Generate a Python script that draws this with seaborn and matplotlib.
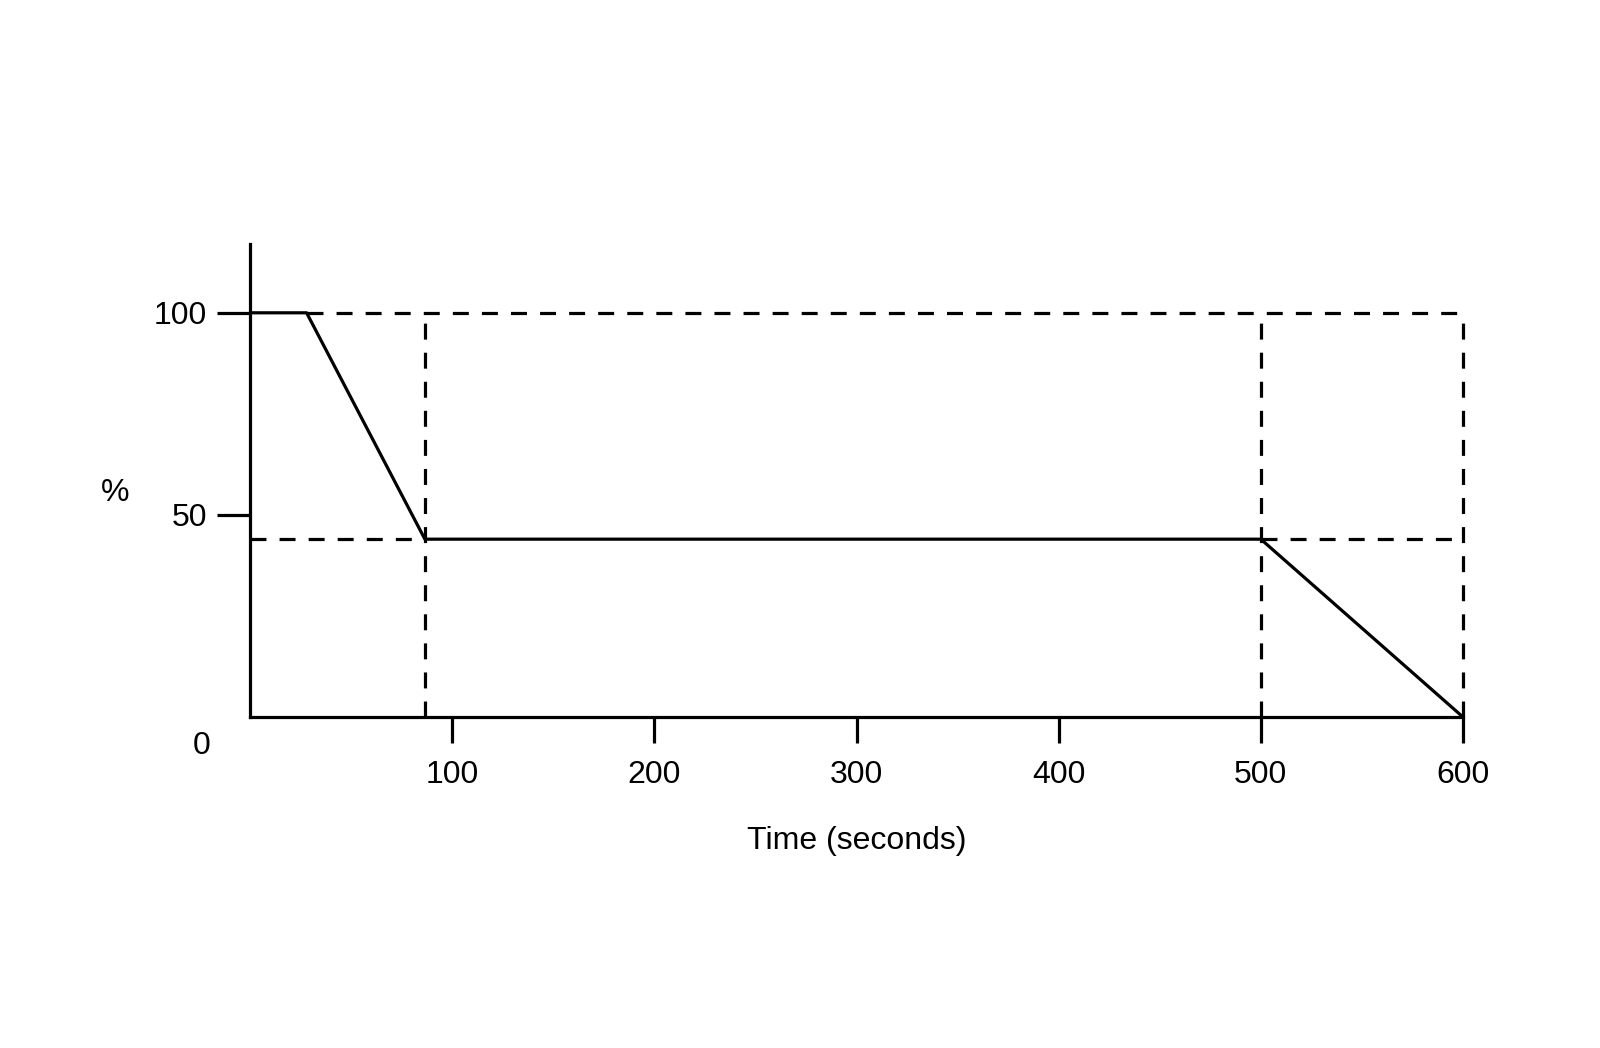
import matplotlib
matplotlib.use('Agg')
import matplotlib.pyplot as plt
import seaborn as sns
import pandas as pd

# curve: percent over time
time_s = [0, 28, 86.5, 500, 600]
percent = [100, 100, 44, 44, 0]

# dashed guide lines
guide_x = [86.5, 500, 600]          # vertical guides, 0 -> 100
guide_top = 100
guide_mid = 44
mid_spans = [(0, 86.5), (500, 600)]  # horizontal guides at 44
top_span = (28, 600)                 # horizontal guide at 100

x_ticks = [100, 200, 300, 400, 500, 600]
y_ticks = [50, 100]

sns.set_style('ticks')
plt.rcParams['font.family'] = ['Liberation Sans', 'DejaVu Sans']
plt.rcParams['text.color'] = 'black'

fig = plt.figure(figsize=(16, 10.48), dpi=100)
ax = fig.add_axes([0.15625, 0.3158, 0.758125, 0.4513])

lw = 2.3
dash = (0, (5.0, 4.1))
fs = 23

df = pd.DataFrame({'time': time_s, 'pct': percent})
sns.lineplot(data=df, x='time', y='pct', color='black', linewidth=lw, ax=ax,
             sort=False, clip_on=False)

for gx in guide_x:
    ax.plot([gx, gx], [0, guide_top], color='black', lw=lw, linestyle=dash, clip_on=False)
for a, b in mid_spans:
    ax.plot([a, b], [guide_mid, guide_mid], color='black', lw=lw, linestyle=dash, clip_on=False)
ax.plot(list(top_span), [guide_top, guide_top], color='black', lw=lw, linestyle=dash, clip_on=False)

ax.set_xlim(0, 600)
ax.set_ylim(0, 117)
sns.despine(ax=ax)
for s in ['left', 'bottom']:
    ax.spines[s].set_linewidth(lw)
    ax.spines[s].set_color('black')

ax.set_xticks(x_ticks)
ax.set_yticks(y_ticks)
ax.tick_params(axis='x', direction='out', length=19, width=lw, pad=12, labelsize=fs,
               colors='black', labelcolor='black')
ax.tick_params(axis='y', direction='out', length=24, width=lw, pad=7, labelsize=fs,
               colors='black', labelcolor='black')

ax.annotate('0', xy=(0, 0), xycoords='data', xytext=(-35, -21), textcoords='offset points',
            ha='center', va='center', fontsize=fs, color='black')

ax.set_xlabel('Time (seconds)', fontsize=fs, va='center', color='black')
ax.xaxis.set_label_coords(0.5, -0.262)
ax.set_ylabel('%', fontsize=fs, rotation=0, ha='center', va='center', color='black')
ax.yaxis.set_label_coords(-0.111, 0.4736)

fig.savefig('out.png', dpi=100, facecolor='white')
